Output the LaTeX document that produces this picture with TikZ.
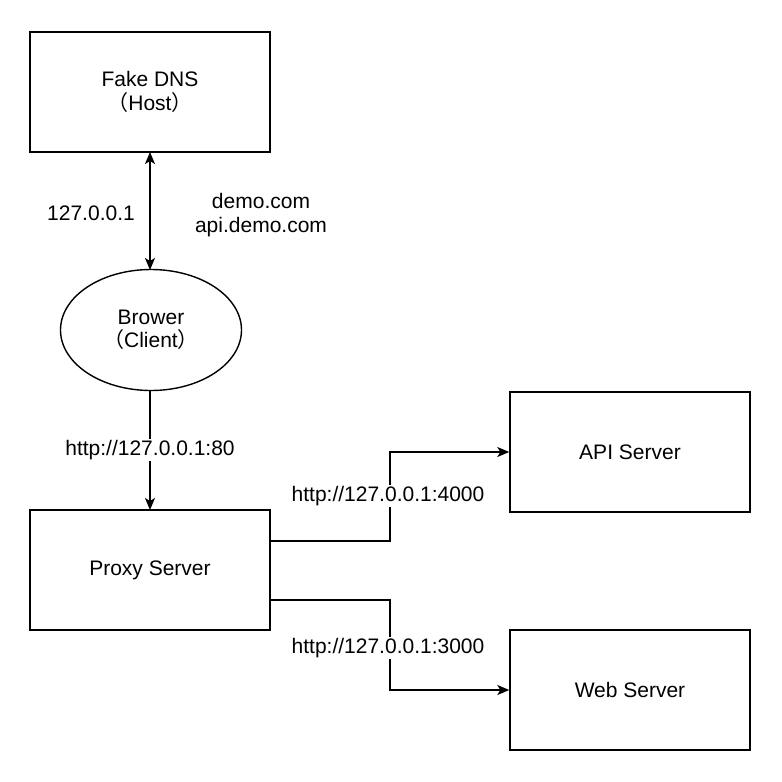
\documentclass[tikz,border=0pt]{standalone}
\usepackage{fontspec}
\setmainfont{Liberation Sans}
\newfontfamily\cjk{Noto Sans CJK SC}
\usetikzlibrary{arrows.meta,shapes.geometric}
\begin{document}
\begin{tikzpicture}[x=1pt,y=-1pt,
  every node/.style={font=\fontsize{21}{23.5}\selectfont},
  box/.style={draw,line width=1.4pt,minimum width=240pt,minimum height=120pt,inner sep=0pt,align=center},
  ell/.style={draw,ellipse,line width=1.4pt,minimum width=181pt,minimum height=121pt,inner sep=0pt,align=center},
  conn/.style={line width=1.4pt,-{Stealth[length=12pt,width=10pt,inset=3pt]}},
  lbl/.style={fill=white,inner sep=1pt}]
\useasboundingbox (0,0) rectangle (782,782);
\node[box] (dns) at (150,92) {Fake DNS\\{\cjk （}Host{\cjk ）}};
\node[ell] (brw) at (151,330) {Brower\\{\cjk （}Client{\cjk ）}};
\node[box] (proxy) at (150,570) {Proxy Server};
\node[box] (api) at (630,452) {API Server};
\node[box] (web) at (630,690) {Web Server};
\coordinate (dnsb) at (150,152);
\coordinate (brwt) at (150,270);
\coordinate (brwb) at (150,390);
\coordinate (proxyt) at (150,510);
\draw[conn,{Stealth[length=12pt,width=10pt,inset=3pt]}-{Stealth[length=12pt,width=10pt,inset=3pt]}] (dnsb) -- (brwt);
\node (l1) at (91,213) {127.0.0.1};
\node[align=center] (l2) at (261,215) {demo.com\\api.demo.com};
\draw[conn] (brwb) -- (proxyt) node[midway,lbl] (l3) {http://127.0.0.1:80};
\coordinate (p1) at (270,541);
\coordinate (p2) at (270,600);
\draw[conn] (p1) -| (390,497) |- (api.west);
\node[lbl] (l4) at (388,496) {http://127.0.0.1:4000};
\draw[conn] (p2) -| (390,647) |- (web.west);
\node[lbl] (l5) at (388,648) {http://127.0.0.1:3000};
\end{tikzpicture}
\end{document}
